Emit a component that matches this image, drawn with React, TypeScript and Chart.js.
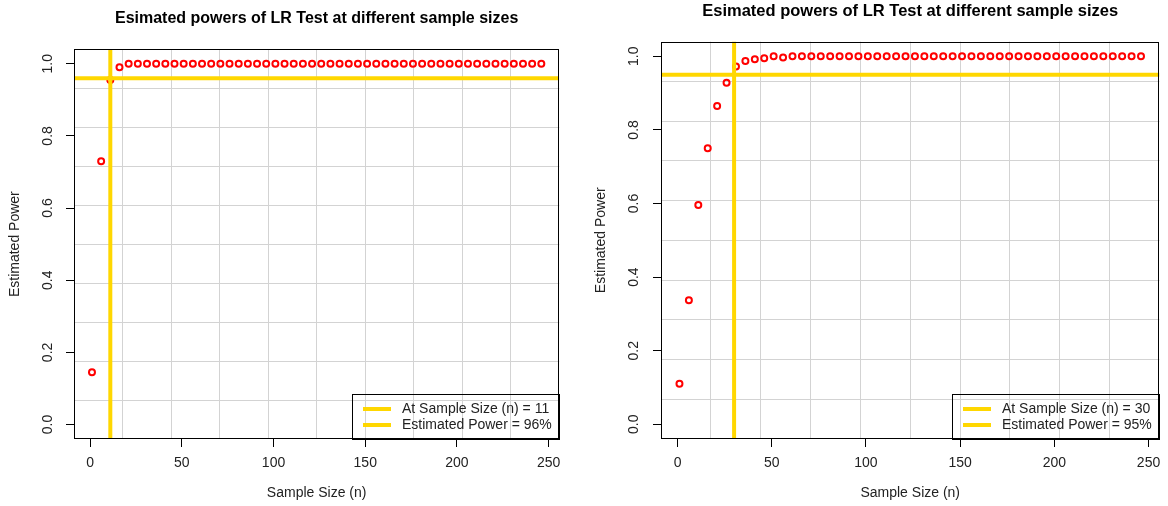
import React, { useEffect, useRef } from "react";
import { Chart, registerables } from "chart.js";

Chart.register(...registerables);

// ---------------- data ----------------
const SAMPLE_SIZES = [
  1, 6, 11, 16, 21, 26, 31, 36, 41, 46,
  51, 56, 61, 66, 71, 76, 81, 86, 91, 96,
  101, 106, 111, 116, 121, 126, 131, 136, 141, 146,
  151, 156, 161, 166, 171, 176, 181, 186, 191, 196,
  201, 206, 211, 216, 221, 226, 231, 236, 241, 246,
];

const POWER_LEFT = [
  0.145, 0.73, 0.955, 0.99, 1, 1, 1, 1, 1, 1,
  1, 1, 1, 1, 1, 1, 1, 1, 1, 1,
  1, 1, 1, 1, 1, 1, 1, 1, 1, 1,
  1, 1, 1, 1, 1, 1, 1, 1, 1, 1,
  1, 1, 1, 1, 1, 1, 1, 1, 1, 1,
];

const POWER_RIGHT = [
  0.11, 0.337, 0.596, 0.75, 0.865, 0.928, 0.972, 0.987, 0.992, 0.995,
  1, 0.997, 1, 1, 1, 1, 1, 1, 1, 1,
  1, 1, 1, 1, 1, 1, 1, 1, 1, 1,
  1, 1, 1, 1, 1, 1, 1, 1, 1, 1,
  1, 1, 1, 1, 1, 1, 1, 1, 1, 1,
];

const X_TICKS = [0, 50, 100, 150, 200, 250];
const Y_TICKS = [0, 0.2, 0.4, 0.6, 0.8, 1.0];
const X_RANGE = [-8.8, 255.8];
const Y_RANGE = [-0.04, 1.04];
const GRID_DIVISIONS = 10;

const TITLE = "Esimated powers of LR Test at different sample sizes";
const X_LABEL = "Sample Size (n)";
const Y_LABEL = "Estimated Power";

const THRESH_N_LEFT = 11;
const THRESH_POWER_LEFT = 0.96;
const THRESH_N_RIGHT = 30;
const THRESH_POWER_RIGHT = 0.95;

const LEGEND_LEFT = ["At Sample Size (n) = 11", "Estimated Power = 96%"];
const LEGEND_RIGHT = ["At Sample Size (n) = 30", "Estimated Power = 95%"];

// ---------------- styles ----------------
const FONT = "'Liberation Sans', Arial, Helvetica, sans-serif";
const GOLD = "#FFD700";
const RED = "#FF0000";
const GRID = "#d3d3d3";
const TEXT = "#222222";
const W = 584;
const H = 506;

const gridValues = (range: number[]) => {
  const out: number[] = [];
  for (let k = 1; k < GRID_DIVISIONS; k++) {
    out.push(range[0] + (k * (range[1] - range[0])) / GRID_DIVISIONS);
  }
  return out;
};

const boxPlugin = {
  id: "rBox",
  afterDraw(chart: any) {
    const { ctx, chartArea: a } = chart;
    ctx.save();
    ctx.strokeStyle = "#000";
    ctx.lineWidth = 1;
    const l = Math.round(a.left) + 0.5;
    const t = Math.round(a.top) + 0.5;
    const r = Math.round(a.right) - 0.5;
    const b = Math.round(a.bottom) - 0.5;
    ctx.strokeRect(l, t, r - l, b - t);
    ctx.restore();
  },
};

const legendPlugin = {
  id: "rLegend",
  afterDatasetsDraw(chart: any, _args: any, opts: any) {
    const { ctx, chartArea: a } = chart;
    const labels: string[] = opts.labels || [];
    ctx.save();
    ctx.font = `14px ${FONT}`;
    const tw = Math.max(...labels.map((l) => ctx.measureText(l).width));
    const w = Math.round(tw + 57);
    const h = 45;
    const x0 = Math.round(a.right) - w;
    const y0 = Math.round(a.bottom) - h;
    ctx.strokeStyle = "#000";
    ctx.lineWidth = 1;
    ctx.strokeRect(x0 + 0.5, y0 + 0.5, w, h);
    labels.forEach((l, i) => {
      const y = y0 + 15 + i * 16;
      ctx.strokeStyle = GOLD;
      ctx.lineWidth = 4;
      ctx.beginPath();
      ctx.moveTo(x0 + 11, y);
      ctx.lineTo(x0 + 39, y);
      ctx.stroke();
      ctx.fillStyle = TEXT;
      ctx.textBaseline = "middle";
      ctx.textAlign = "left";
      ctx.fillText(l, x0 + 50, y);
    });
    ctx.restore();
  },
};

type PanelProps = {
  power: number[];
  threshN: number;
  threshPower: number;
  legend: string[];
  areaLeft: number;
  areaTop: number;
  padRight: number;
  titleSize: number;
  titlePad: number;
  yTitlePad: number;
  yTickPad: number;
};

function makeConfig(p: PanelProps): any {
  const tickFont = { family: FONT, size: 14, lineHeight: 1.2 };
  return {
    type: "scatter",
    data: {
      datasets: [
        {
          type: "line",
          label: "vline",
          data: [
            { x: p.threshN, y: Y_RANGE[0] },
            { x: p.threshN, y: Y_RANGE[1] },
          ],
          borderColor: GOLD,
          borderWidth: 4,
          pointRadius: 0,
          clip: 0,
          order: 1,
        },
        {
          type: "line",
          label: "hline",
          data: [
            { x: X_RANGE[0], y: p.threshPower },
            { x: X_RANGE[1], y: p.threshPower },
          ],
          borderColor: GOLD,
          borderWidth: 4,
          pointRadius: 0,
          clip: 0,
          order: 1,
        },
        {
          type: "scatter",
          label: "power",
          data: SAMPLE_SIZES.map((x, i) => ({ x, y: p.power[i] })),
          pointRadius: 3,
          pointBorderWidth: 2,
          borderWidth: 2,
          borderColor: RED,
          pointBorderColor: RED,
          backgroundColor: "rgba(0,0,0,0)",
          pointBackgroundColor: "rgba(0,0,0,0)",
          order: 2,
        },
      ],
    },
    options: {
      responsive: false,
      animation: false,
      events: [],
      layout: { padding: { left: 0, right: p.padRight, top: 0, bottom: 0 } },
      plugins: {
        legend: { display: false },
        tooltip: { enabled: false },
        title: { display: false },
        rLegend: { labels: p.legend },
      },
      scales: {
        x: {
          type: "linear",
          position: "bottom",
          min: X_RANGE[0],
          max: X_RANGE[1],
          afterBuildTicks: (s: any) => {
            s.ticks = X_TICKS.map((v) => ({ value: v }));
          },
          afterFit: (s: any) => {
            s.height = 67;
          },
          ticks: {
            font: tickFont,
            color: TEXT,
            padding: 7.6,
            autoSkip: false,
            maxRotation: 0,
            minRotation: 0,
            callback: (v: any) => String(v),
          },
          grid: {
            display: true,
            drawOnChartArea: false,
            drawTicks: true,
            tickLength: 8,
            tickColor: "#000",
            tickWidth: 1,
          },
          border: { display: false },
          title: {
            display: true,
            text: X_LABEL,
            font: tickFont,
            color: TEXT,
            padding: { top: 0, bottom: 4.6 },
          },
        },
        xg: {
          type: "linear",
          position: "bottom",
          min: X_RANGE[0],
          max: X_RANGE[1],
          afterBuildTicks: (s: any) => {
            s.ticks = gridValues(X_RANGE).map((v) => ({ value: v }));
          },
          afterFit: (s: any) => {
            s.height = 0;
          },
          ticks: { display: false },
          grid: {
            display: true,
            drawOnChartArea: true,
            drawTicks: false,
            color: GRID,
            lineWidth: 1,
          },
          border: { display: false },
        },
        xt: {
          type: "linear",
          position: "top",
          min: X_RANGE[0],
          max: X_RANGE[1],
          afterFit: (s: any) => {
            s.height = p.areaTop;
          },
          ticks: { display: false },
          grid: { display: false },
          border: { display: false },
          title: {
            display: true,
            text: TITLE,
            font: { family: FONT, size: p.titleSize, weight: "bold", lineHeight: 1.2 },
            color: "#000",
            padding: { top: p.titlePad, bottom: 0 },
          },
        },
        y: {
          type: "linear",
          position: "left",
          min: Y_RANGE[0],
          max: Y_RANGE[1],
          afterBuildTicks: (s: any) => {
            s.ticks = Y_TICKS.map((v) => ({ value: v }));
          },
          afterFit: (s: any) => {
            s.width = p.areaLeft;
          },
          ticks: {
            font: tickFont,
            color: TEXT,
            padding: p.yTickPad,
            autoSkip: false,
            minRotation: 90,
            maxRotation: 90,
            crossAlign: "center",
            callback: (v: any) => Number(v).toFixed(1),
          },
          grid: {
            display: true,
            drawOnChartArea: false,
            drawTicks: true,
            tickLength: 8,
            tickColor: "#000",
            tickWidth: 1,
          },
          border: { display: false },
          title: {
            display: true,
            text: Y_LABEL,
            font: tickFont,
            color: TEXT,
            padding: { top: p.yTitlePad, bottom: 0 },
          },
        },
        yg: {
          type: "linear",
          position: "left",
          min: Y_RANGE[0],
          max: Y_RANGE[1],
          afterBuildTicks: (s: any) => {
            s.ticks = gridValues(Y_RANGE).map((v) => ({ value: v }));
          },
          afterFit: (s: any) => {
            s.width = 0;
          },
          ticks: { display: false },
          grid: {
            display: true,
            drawOnChartArea: true,
            drawTicks: false,
            color: GRID,
            lineWidth: 1,
          },
          border: { display: false },
        },
      },
    },
    plugins: [boxPlugin, legendPlugin],
  };
}

function Panel(props: PanelProps & { left: number }) {
  const ref = useRef<HTMLCanvasElement | null>(null);
  useEffect(() => {
    if (!ref.current) return;
    const chart = new Chart(ref.current, makeConfig(props));
    return () => chart.destroy();
  }, []);
  return (
    <canvas
      ref={ref}
      width={W}
      height={H}
      style={{ position: "absolute", left: props.left, top: 0, width: W, height: H }}
    />
  );
}

export default function App() {
  return (
    <div
      style={{
        position: "fixed",
        left: 0,
        top: 0,
        width: 1168,
        height: 506,
        background: "#fff",
        overflow: "hidden",
      }}
    >
      <Panel
        left={0}
        power={POWER_LEFT}
        threshN={THRESH_N_LEFT}
        threshPower={THRESH_POWER_LEFT}
        legend={LEGEND_LEFT}
        areaLeft={74}
        areaTop={49.3}
        padRight={24.7}
        titleSize={16}
        titlePad={8.7}
        yTitlePad={6.6}
        yTickPad={7.8}
      />
      <Panel
        left={584}
        power={POWER_RIGHT}
        threshN={THRESH_N_RIGHT}
        threshPower={THRESH_POWER_RIGHT}
        legend={LEGEND_RIGHT}
        areaLeft={77}
        areaTop={41.6}
        padRight={6}
        titleSize={16.5}
        titlePad={1.8}
        yTitlePad={8.6}
        yTickPad={9.3}
      />
    </div>
  );
}
